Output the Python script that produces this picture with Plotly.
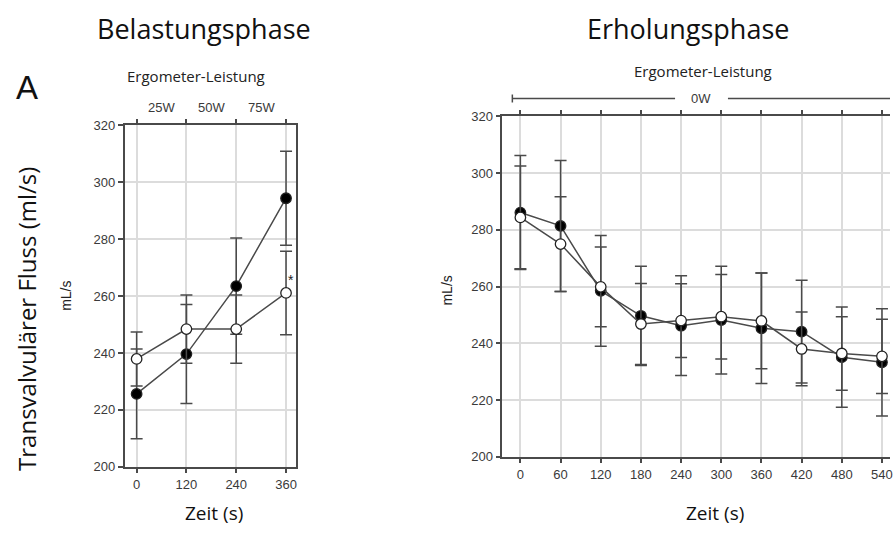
import plotly.graph_objects as go

W, H = 893, 533

# ---------------- data ----------------
load_time = [0, 120, 240, 360]
load_filled = [225.6, 239.6, 263.5, 294.4]
load_filled_err = [15.8, 17.4, 16.9, 16.5]
load_open = [237.9, 248.4, 248.4, 261.1]
load_open_err = [9.5, 12.0, 12.0, 14.7]
load_power_labels = ["25W", "50W", "75W"]
load_power_pos = [60, 180, 300]

rec_time = [0, 60, 120, 180, 240, 300, 360, 420, 480, 540]
rec_filled = [286.1, 281.4, 258.5, 249.7, 246.2, 248.2, 245.3, 244.1, 235.1, 233.3]
rec_filled_err = [20.1, 23.1, 19.5, 17.5, 17.6, 19.0, 19.5, 18.1, 17.7, 18.9]
rec_open = [284.4, 275.0, 259.9, 246.8, 248.0, 249.4, 247.9, 238.0, 236.4, 235.4]
rec_open_err = [18.1, 16.7, 14.1, 14.3, 13.0, 14.9, 16.9, 13.0, 13.0, 13.1]

y_ticks = [200, 220, 240, 260, 280, 300, 320]

LINE = "#4a4a4a"
GRID = "#dcdcdc"
SANS = "Liberation Sans, Arial, sans-serif"
TICKFONT = dict(family=SANS, size=13, color="#3a3a3a")
TXT = "Open Sans, sans-serif"


def px(x):
    return x / W


def py(y):
    # compensate observed vertical scaling of the rendered page
    y = (y - 6.3) / 0.974
    return 1 - y / H


fig = go.Figure()


def add_series(x, y, e, filled, xa, ya):
    fig.add_trace(go.Scatter(
        x=x, y=y, mode="lines+markers",
        xaxis=xa, yaxis=ya,
        line=dict(color=LINE, width=1.5),
        marker=dict(size=10.5, symbol="circle",
                    color="#000000" if filled else "#ffffff",
                    line=dict(color="#222222", width=1.3)),
        error_y=dict(type="data", array=e, visible=True, color=LINE,
                     thickness=1.5, width=6),
        showlegend=False, hoverinfo="skip"))


add_series(load_time, load_filled, load_filled_err, True, "x", "y")
add_series(load_time, load_open, load_open_err, False, "x", "y")
add_series(rec_time, rec_filled, rec_filled_err, True, "x2", "y2")
add_series(rec_time, rec_open, rec_open_err, False, "x2", "y2")

axis_common = dict(showgrid=True, gridcolor=GRID, gridwidth=1.5,
                   showline=True, linecolor=LINE, linewidth=1.5,
                   ticks="outside", ticklen=5, tickwidth=1.5, tickcolor=LINE,
                   tickfont=TICKFONT, zeroline=False, ticklabeloverflow="allow")

fig.update_layout(
    width=W, height=H, autosize=False,
    margin=dict(l=0, r=0, t=0, b=0),
    paper_bgcolor="white", plot_bgcolor="white",
    xaxis=dict(domain=[px(125), px(297)], range=[-29, 384],
               tickvals=load_time, mirror="ticks", anchor="y", **axis_common),
    yaxis=dict(domain=[py(467), py(125)], range=[200, 320],
               tickvals=y_ticks, mirror=True, anchor="x", **axis_common),
    xaxis2=dict(domain=[px(504), 1.0], range=[-27, 552],
                tickvals=rec_time, mirror="ticks", anchor="y2", **axis_common),
    yaxis2=dict(domain=[py(457), py(116)], range=[200, 320],
                tickvals=y_ticks, anchor="x2", **axis_common),
)

ann = []


def A(text, x, y, font, xref="paper", yref="paper", angle=0):
    ann.append(dict(text=text, x=x, y=y, xref=xref, yref=yref, showarrow=False,
                    xanchor="center", yanchor="middle", textangle=angle, font=font))


A("Belastungsphase", px(205), py(28), dict(family=TXT, size=27, color="#111"))
A("Erholungsphase", px(690), py(28), dict(family=TXT, size=27, color="#111"))
A("A", px(27), py(87), dict(family=SANS, size=33, color="#111"))
A("Transvalvulärer Fluss (ml/s)", px(26), py(319), dict(family=TXT, size=24, color="#111"), angle=-90)
A("Ergometer-Leistung", px(197), py(75), dict(family=TXT, size=15, color="#222"))
A("Ergometer-Leistung", px(705), py(70), dict(family=TXT, size=15, color="#222"))
for lab, pos in zip(load_power_labels, load_power_pos):
    A(lab, pos, py(107), TICKFONT, xref="x")
A("0W", 270, py(98), TICKFONT, xref="x2")
A("*", 372, 265.5, dict(family=SANS, size=14, color="#222"), xref="x", yref="y")
A("mL/s", px(66), py(296), dict(family=SANS, size=14, color="#222"), angle=-90)
A("mL/s", px(449), py(290), dict(family=SANS, size=14, color="#222"), angle=-90)
A("Zeit (s)", px(215), py(513), dict(family=TXT, size=19, color="#111"))
A("Zeit (s)", px(717), py(513), dict(family=TXT, size=19, color="#111"))
fig.update_layout(annotations=ann)

# 0W bracket line
yb = py(98)
fig.add_shape(type="line", xref="x2", yref="paper", x0=-12, x1=231, y0=yb, y1=yb,
              line=dict(color=LINE, width=1.5))
fig.add_shape(type="line", xref="x2", yref="paper", x0=310, x1=552, y0=yb, y1=yb,
              line=dict(color=LINE, width=1.5))
fig.add_shape(type="line", xref="x2", yref="paper", x0=-12, x1=-12, y0=py(94), y1=py(102),
              line=dict(color=LINE, width=1.5))

fig.write_html("out.html", config={"responsive": False})
